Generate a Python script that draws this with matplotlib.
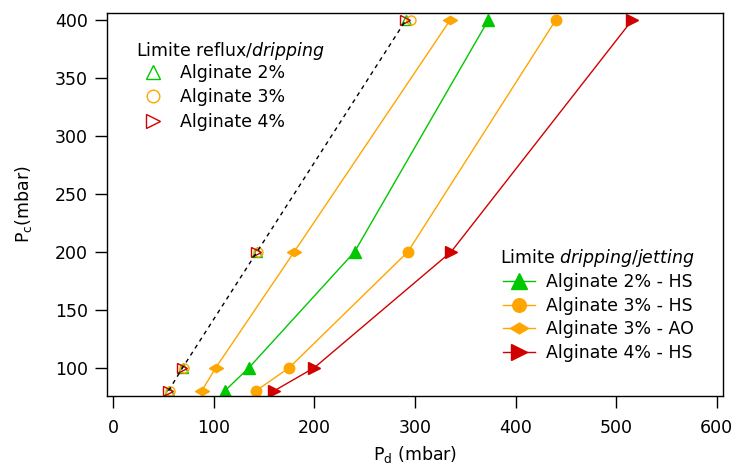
import matplotlib
matplotlib.use("Agg")
import matplotlib.pyplot as plt
from matplotlib.path import Path

plt.rcParams['font.family'] = ['DejaVu Sans']
plt.rcParams['mathtext.fontset'] = 'dejavusans'

# --- data ---
pc_levels = [80, 100, 200, 400]

# Limite reflux/dripping (open markers)
reflux_alg2 = [55, 69, 143, 291]
reflux_alg3 = [56, 70, 144, 296]
reflux_alg4 = [54, 68, 142, 290]
reflux_line = [55, 69, 143, 291]

# Limite dripping/jetting (filled markers + lines)
jet_alg2_hs = [111, 135, 240, 373]
jet_alg3_hs = [142, 175, 293, 440]
jet_alg3_ao = [88, 102, 180, 335]
jet_alg4_hs = [160, 200, 336, 516]

xticks = [0, 100, 200, 300, 400, 500, 600]
yticks = [100, 150, 200, 250, 300, 350, 400]

GREEN = '#00C800'
ORANGE = '#FFA500'
RED = '#D00000'
FS = 12.5
W, H = 736, 469

flat_diamond = Path([(-1, 0), (0, 0.6), (1, 0), (0, -0.6), (-1, 0)],
                    [Path.MOVETO, Path.LINETO, Path.LINETO, Path.LINETO, Path.CLOSEPOLY])

fig = plt.figure(figsize=(7.36, 4.69), dpi=100)
ax = fig.add_axes([106.7 / W, 1 - 395.7 / H, (722.7 - 106.7) / W, (395.7 - 13.3) / H])

# dripping/jetting lines
l1, = ax.plot(jet_alg2_hs, pc_levels, color=GREEN, lw=1, marker='^', ms=8.5, mec=GREEN, mfc=GREEN)
l2, = ax.plot(jet_alg3_hs, pc_levels, color=ORANGE, lw=1, marker='o', ms=7.5, mec=ORANGE, mfc=ORANGE)
l3, = ax.plot(jet_alg3_ao, pc_levels, color=ORANGE, lw=1, marker=flat_diamond, ms=10, mec=ORANGE, mfc=ORANGE)
l4, = ax.plot(jet_alg4_hs, pc_levels, color=RED, lw=1, marker='>', ms=8.5, mec=RED, mfc=RED)

# reflux/dripping
ax.plot(reflux_line, pc_levels, color='black', lw=1, ls=(0, (3, 3)), zorder=3)
o1, = ax.plot(reflux_alg2, pc_levels, ls='none', marker='^', ms=7, mfc='none', mec=GREEN, mew=1, zorder=2)
o2, = ax.plot(reflux_alg3, pc_levels, ls='none', marker='o', ms=6.5, mfc='none', mec=ORANGE, mew=1, zorder=2)
o3, = ax.plot(reflux_alg4, pc_levels, ls='none', marker='>', ms=7, mfc='none', mec=RED, mew=1, zorder=2)

ax.set_xlim(-6.5, 606)
ax.set_ylim(75.8, 405.8)
ax.set_xticks(xticks)
ax.set_yticks(yticks)
ax.tick_params(axis='both', direction='out', length=8.6, width=1, labelsize=FS)
ax.tick_params(axis='x', pad=8.5)
ax.tick_params(axis='y', pad=5)
for s in ax.spines.values():
    s.set_linewidth(1)

ax.set_xlabel(r'P$_\mathregular{d}$ (mbar)', fontsize=FS, labelpad=5)
ax.set_ylabel(r'P$_\mathregular{c}$(mbar)', fontsize=FS, labelpad=15)

# legend titles
fig.text(136 / W, 1 - 48 / H, r'Limite reflux/$\mathit{dripping}$', fontsize=FS,
         ha='left', va='center_baseline')
fig.text(500 / W, 1 - 255 / H, r'Limite $\mathit{dripping/jetting}$', fontsize=FS,
         ha='left', va='center_baseline')

leg1 = ax.legend([o1, o2, o3], ['Alginate 2%', 'Alginate 3%', 'Alginate 4%'],
                 fontsize=FS, frameon=False, loc='center left',
                 bbox_to_anchor=(142.5 / W, 1 - 97.5 / H), bbox_transform=fig.transFigure,
                 markerscale=1.4, handlelength=1.2, handletextpad=0.95, labelspacing=0.38,
                 borderpad=0, borderaxespad=0)
ax.add_artist(leg1)

leg2 = ax.legend([l1, l2, l3, l4],
                 ['Alginate 2% - HS', 'Alginate 3% - HS', 'Alginate 3% - AO', 'Alginate 4% - HS'],
                 fontsize=FS, frameon=False, loc='center left',
                 bbox_to_anchor=(503 / W, 1 - 317.5 / H), bbox_transform=fig.transFigure,
                 markerscale=1.3, handlelength=1.84, handletextpad=0.63, labelspacing=0.33,
                 borderpad=0, borderaxespad=0)

fig.savefig('out.png', dpi=100)
